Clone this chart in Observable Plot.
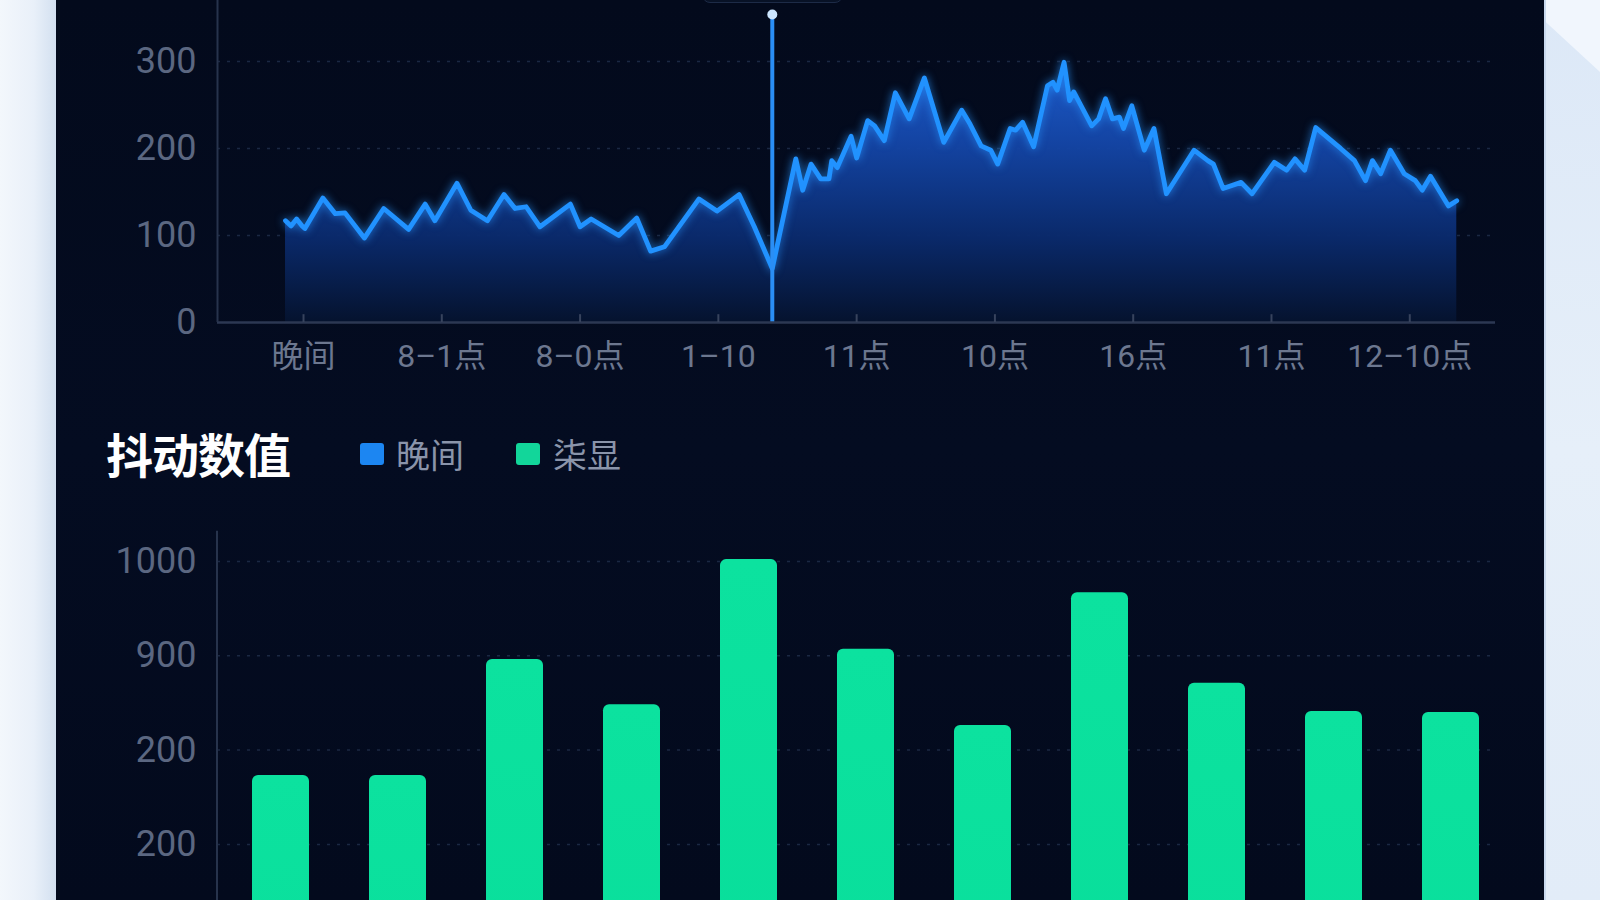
<!DOCTYPE html>
<html>
<head>
<meta charset="utf-8">
<script src="https://cdn.jsdelivr.net/npm/d3@7"></script>
<script src="https://cdn.jsdelivr.net/npm/@observablehq/plot@0.6"></script>
<style>
  html, body { margin: 0; padding: 0; }
  body { width: 1600px; height: 900px; overflow: hidden; position: relative; background: #e3ecf7; font-family: Roboto, "Noto Sans CJK SC", sans-serif; }
  #leftStrip { position: absolute; left: 0; top: 0; width: 56px; height: 900px; background: linear-gradient(90deg, #f3f7fc 0%, #e9f0f9 60%, #d3e0f0 100%); }
  #rightStrip { position: absolute; left: 1544px; top: 0; width: 56px; height: 900px; background: linear-gradient(180deg, #dce8f7 0%, #e6eff9 50%, #e2ecf8 100%); border-left: 2px solid #c9d9ee; box-sizing: border-box; }
  #corner { position: absolute; left: 1546px; top: 0; width: 54px; height: 72px; background: #f1f6fd; clip-path: polygon(0 0, 100% 0, 100% 100%, 0 31%); }
  #panel { position: absolute; left: 56px; top: 0; width: 1488px; height: 900px; background: linear-gradient(180deg, #030a1c 0%, #040c21 50%, #030a1d 100%); }
  #tooltip { position: absolute; left: 702px; top: -40px; width: 141px; height: 43px; border: 1.5px solid #1d2b47; border-radius: 8px; background: #081226; box-sizing: border-box; }
  #topChart { position: absolute; left: 0; top: 0; }
  #barChart { position: absolute; left: 0; top: 500px; }
  #title { position: absolute; left: 106px; top: 427px; font-size: 47px; line-height: 52px; font-weight: 700; color: #ffffff; font-family: "Noto Sans CJK SC", sans-serif; letter-spacing: -1px; }
  .legSw { position: absolute; top: 443px; width: 24px; height: 22px; border-radius: 3px; }
  .legTx { position: absolute; top: 432px; font-size: 34px; line-height: 44px; color: #8a94aa; font-family: "Noto Sans CJK SC", sans-serif; }
  #topChart g[aria-label="line"] path { filter: drop-shadow(0 0 4px rgba(40,150,255,0.75)); }
</style>
</head>
<body>
<div id="leftStrip"></div>
<div id="rightStrip"></div>
<div id="corner"></div>
<div id="panel"></div>
<div id="tooltip"></div>
<div id="topChart"></div>
<div id="title">抖动数值</div>
<div class="legSw" style="left:360px; background:#1c86f2;"></div>
<div class="legTx" style="left:396px;">晚间</div>
<div class="legSw" style="left:516px; background:#12d69a;"></div>
<div class="legTx" style="left:553px;">柒显</div>
<div id="barChart"></div>
<script>
// ---------- data: top line chart ----------
const xTickPos = [0, 1, 2, 3, 4, 5, 6, 7, 8];
const xTickLabels = ["晚间", "8–1点", "8–0点", "1–10", "11点", "10点", "16点", "11点", "12–10点"];
const yTicks = [0, 100, 200, 300];
const lineT = [-0.13,-0.09,-0.05,-0.01,0.01,0.14,0.23,0.30,0.44,0.58,0.76,0.88,0.95,1.11,1.21,1.33,1.45,1.53,1.61,1.71,1.93,2.00,2.08,2.28,2.41,2.51,2.61,2.86,2.99,3.15,3.26,3.39,3.56,3.61,3.67,3.74,3.80,3.82,3.86,3.96,4.00,4.08,4.13,4.20,4.28,4.38,4.49,4.63,4.76,4.82,4.90,4.97,5.02,5.11,5.15,5.20,5.28,5.38,5.42,5.45,5.50,5.54,5.57,5.70,5.75,5.80,5.85,5.90,5.93,5.99,6.08,6.15,6.24,6.44,6.54,6.58,6.65,6.78,6.86,7.02,7.11,7.17,7.24,7.32,7.50,7.60,7.68,7.73,7.79,7.86,7.96,8.04,8.09,8.15,8.28,8.34];
const lineV = [117,111,119,111,108,143,125,126,97,131,107,136,117,160,129,117,147,131,133,110,136,110,119,100,120,82,87,142,128,147,110,62,188,152,182,165,165,186,178,214,189,232,226,209,264,234,281,207,244,228,203,198,182,223,221,230,202,272,276,267,299,255,265,226,234,257,234,236,223,249,198,223,148,198,186,182,154,161,148,184,175,188,175,224,200,186,163,186,171,198,171,163,152,168,134,140];
const cursorX = 3.39;
const cursorTop = 354;

// ---------- data: bar chart ----------
const barCats = ["1", "2", "3", "4", "5", "6", "7", "8", "9", "10", "11"];
const barVals = [773, 773, 896, 848, 1002, 907, 826, 967, 871, 841, 840];
const barTicks = [1000, 900, 800, 700];
const barTickLabels = ["1000", "900", "200", "200"];

const lineData = lineT.map((t, i) => ({t, v: lineV[i]}));
const barData = barCats.map((c, i) => ({cat: c, v: barVals[i]}));

const FONT = "Roboto, 'Noto Sans CJK SC', sans-serif";

const defsMark = () => {
  const d = document.createElementNS("http://www.w3.org/2000/svg", "defs");
  d.innerHTML = `
    <linearGradient id="areaGrad" gradientUnits="userSpaceOnUse" x1="0" y1="50" x2="0" y2="322">
      <stop offset="0" stop-color="#2064dc"/>
      <stop offset="0.35" stop-color="#1446a8"/>
      <stop offset="0.7" stop-color="#0a2a6c"/>
      <stop offset="1" stop-color="#05132f"/>
    </linearGradient>
    <linearGradient id="barGrad" x1="0" y1="0" x2="0" y2="1">
      <stop offset="0" stop-color="#0ce29f"/>
      <stop offset="1" stop-color="#04d995"/>
    </linearGradient>`;
  return d;
};

const topPlot = Plot.plot({
  width: 1600,
  height: 400,
  marginLeft: 217,
  marginRight: 105,
  marginTop: 0,
  marginBottom: 78,
  style: {fontFamily: FONT, background: "transparent", overflow: "visible"},
  x: {domain: [-0.622, 8.62], label: null},
  y: {domain: [0, 370], label: null},
  marks: [
    defsMark,
    Plot.ruleY(yTicks.filter(d => d > 0), {stroke: "#1b2843", strokeWidth: 1.5, strokeDasharray: "3,7"}),
    Plot.areaY(lineData, {x: "t", y: "v", fill: "url(#areaGrad)", fillOpacity: 0.95}),
    Plot.lineY(lineData, {x: "t", y: "v", stroke: "#2192ff", strokeWidth: 4.8, strokeLinejoin: "round", strokeLinecap: "round"}),
    Plot.ruleX([cursorX], {y1: 0, y2: cursorTop, stroke: "#2a8ef5", strokeWidth: 4}),
    Plot.dot([{t: cursorX, v: cursorTop}], {x: "t", y: "v", r: 5, fill: "#cde6ff", stroke: null}),
    Plot.ruleY([0], {stroke: "#2c3853", strokeWidth: 2.5}),
    Plot.ruleX([-0.622], {y1: 0, y2: 370, stroke: "#27334c", strokeWidth: 2}),
    Plot.ruleX(xTickPos, {y1: 0, y2: 9, stroke: "#37435d", strokeWidth: 2}),
    Plot.axisY({ticks: yTicks, tickSize: 0, tickPadding: 21, fontSize: 36, fill: "#5b6781", label: null}),
    Plot.axisX({ticks: xTickPos, tickFormat: d => xTickLabels[d], tickSize: 0, tickPadding: 22, fontSize: 32, fill: "#6c778f", label: null})
  ]
});
document.getElementById("topChart").appendChild(topPlot);

const barPlot = Plot.plot({
  width: 1600,
  height: 400,
  marginLeft: 217,
  marginRight: 110,
  marginTop: 0,
  marginBottom: 0,
  style: {fontFamily: FONT, background: "transparent", overflow: "visible"},
  x: {type: "band", domain: barCats, range: [193.3, 1538.8], paddingInner: 0.51, paddingOuter: 0.5, axis: null, label: null},
  y: {domain: [640.5, 1064.7], label: null},
  marks: [
    defsMark,
    Plot.ruleY(barTicks, {stroke: "#1b2843", strokeWidth: 1.5, strokeDasharray: "3,7"}),
    Plot.barY(barData, {x: "cat", y: "v", fill: "url(#barGrad)", rx: 6}),
    Plot.axisY({ticks: barTicks, tickFormat: d => barTickLabels[barTicks.indexOf(d)], tickSize: 0, tickPadding: 21, fontSize: 36, fill: "#5b6781", label: null})
  ]
});
document.getElementById("barChart").appendChild(barPlot);
// y axis line of the bar chart, at the plot's left edge
const ySc = barPlot.scale("y");
d3.select(barPlot).append("line")
  .attr("x1", 217).attr("x2", 217)
  .attr("y1", ySc.apply(1032)).attr("y2", 400)
  .attr("stroke", "#27334c").attr("stroke-width", 2);
</script>
</body>
</html>
